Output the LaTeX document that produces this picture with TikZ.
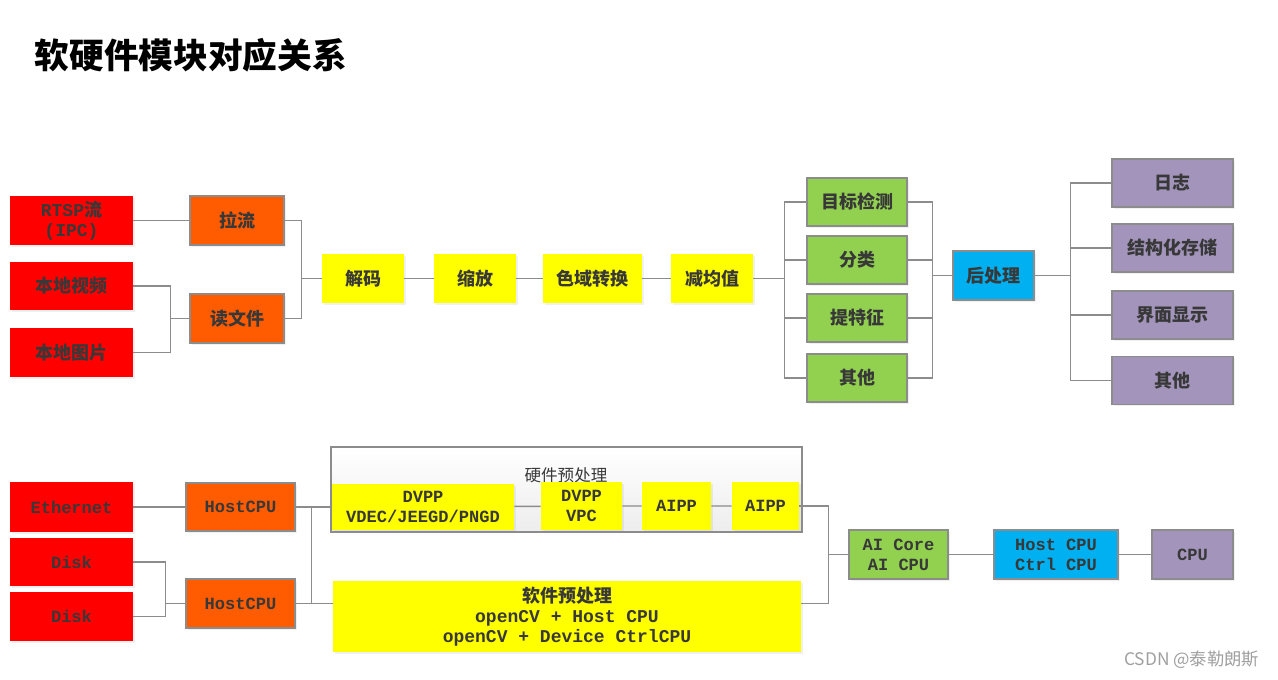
\documentclass[tikz,border=0pt]{standalone}
\usepackage{fontspec}
\setmainfont{Noto Sans CJK SC}
\newfontfamily\mono{Liberation Mono}
\usepackage{tikz}
\usetikzlibrary{positioning, shadows}
\usepackage{xcolor}
\definecolor{boxred}{HTML}{FF0000}
\definecolor{boxorange}{HTML}{FF5B00}
\definecolor{boxyellow}{HTML}{FFFF00}
\definecolor{boxgreen}{HTML}{92D050}
\definecolor{boxblue}{HTML}{00B0F0}
\definecolor{boxpurple}{HTML}{A294BA}
\definecolor{linegray}{HTML}{8C8C8C}
\definecolor{textgray}{HTML}{383838}

\tikzset{
  boxsize/.style 2 args={minimum width=#1*0.75pt, minimum height=#2*0.75pt},
  box/.style={rectangle, inner sep=0pt, align=center, text=textgray,
    font=\fontsize{13.5}{15}\selectfont\bfseries,
    drop shadow={opacity=0.12, shadow xshift=1.2pt, shadow yshift=-1.2pt}},
  monotext/.style={font=\mono\fontsize{12.8}{15}\selectfont\bfseries},
  redbox/.style={box, fill=boxred},
  orangebox/.style={box, fill=boxorange, draw=linegray, line width=0.8pt},
  yellowbox/.style={box, fill=boxyellow},
  greenbox/.style={box, fill=boxgreen, draw=linegray, line width=0.8pt},
  bluebox/.style={box, fill=boxblue, draw=linegray, line width=0.8pt},
  purplebox/.style={box, fill=boxpurple, draw=linegray, line width=0.8pt},
  conn/.style={draw=linegray, line width=1.1pt},
}

\begin{document}
\begin{tikzpicture}[x=0.75pt, y=-0.75pt]
  \useasboundingbox (0,0) rectangle (1278,679);
  % Titel
  \node[anchor=west, font=\fontsize{26}{30}\selectfont\bfseries] (title) at (30,55) {软硬件模块对应关系};

  % Quellen oben
  \node[redbox, boxsize={123}{49}] (rtsp) at (71.5,220.5) {{\mono RTSP}流\\{\mono (IPC)}};
  \node[redbox, boxsize={123}{48}] (video) at (71.5,286) {本地视频};
  \node[redbox, boxsize={123}{49}] (image) at (71.5,352.5) {本地图片};
  \node[orangebox, boxsize={94}{49}] (pull) at (237,220.5) {拉流};
  \node[orangebox, boxsize={94}{49}] (read) at (237,318.5) {读文件};

  % Vorverarbeitung
  \node[yellowbox, boxsize={82}{49}] (decode) at (363,278.5) {解码};
  \node[yellowbox, boxsize={82}{49}] (resize) at (475,278.5) {缩放};
  \node[yellowbox, boxsize={99}{49}] (csc) at (592.5,278.5) {色域转换};
  \node[yellowbox, boxsize={82}{49}] (mean) at (712,278.5) {减均值};

  % Inferenz
  \foreach \n/\t/\y in {det/目标检测/202, cls/分类/260, feat/提特征/318, othera/其他/378}{
    \node[greenbox, boxsize={100}{48}] (\n) at (857,\y) {\t};
  }
  \node[bluebox, boxsize={81}{49}] (post) at (993.5,275.5) {后处理};

  % Nachverarbeitung
  \foreach \n/\t/\y in {log/日志/183, store/结构化存储/248, gui/界面显示/315, otherb/其他/380.5}{
    \node[purplebox, boxsize={121}{48}] (\n) at (1172.5,\y) {\t};
  }

  % Verbindungen oben
  \draw[conn] (rtsp.east) -- (pull.west);
  \draw[conn] (video.east) -- ++(37,0) |- (read.west);
  \draw[conn] (image.east) -- ++(37,0) |- (read.west);
  \draw[conn] (pull.east) -- ++(17,0) |- (decode.west);
  \draw[conn] (read.east) -- ++(17,0) |- (decode.west);
  \draw[conn] (decode) -- (resize) -- (csc) -- (mean);
  \foreach \n in {det, cls, feat, othera}{
    \draw[conn] (mean.east) -- ++(31,0) |- (\n.west);
    \draw[conn] (\n.east) -- ++(25,0) |- (post.west);
  }
  \foreach \n in {log, store, gui, otherb}{
    \draw[conn] (post.east) -- ++(36,0) |- (\n.west);
  }

  % Hardware unten
  \node[redbox, monotext, boxsize={123}{50}] (eth) at (71.5,507) {Ethernet};
  \node[redbox, monotext, boxsize={123}{48}] (diska) at (71.5,562) {Disk};
  \node[redbox, monotext, boxsize={123}{49}] (diskb) at (71.5,616.5) {Disk};
  \node[orangebox, monotext, boxsize={109}{48}] (hosta) at (240.5,507) {HostCPU};
  \node[orangebox, monotext, boxsize={109}{49}] (hostb) at (240.5,603.5) {HostCPU};

  % Gruppe Hardware-Vorverarbeitung
  \node[draw=linegray, line width=0.9pt, top color=white, bottom color=gray!14,
    boxsize={471}{85}] (hw) at (566.5,489.5) {};
  \node[text=textgray, font=\fontsize{12.4}{14}\selectfont] (hwtitle) at (566,475) {硬件预处理};
  \node[yellowbox, monotext, boxsize={182}{46}] (vdec) at (423,507) {DVPP\\VDEC/JEEGD/PNGD};
  \node[yellowbox, monotext, boxsize={81}{48}] (vpc) at (581.5,506) {DVPP\\VPC};
  \node[yellowbox, monotext, boxsize={69}{48}] (aippa) at (676.5,506) {AIPP};
  \node[yellowbox, monotext, boxsize={67}{48}] (aippb) at (765.5,506) {AIPP};
  \node[yellowbox, boxsize={468}{71}] (sw) at (567,616.5)
    {软件预处理\\{\mono openCV + Host CPU}\\{\mono openCV + Device CtrlCPU}};

  \node[greenbox, monotext, boxsize={99}{49}] (aicore) at (898.5,554.5) {AI Core\\AI CPU};
  \node[bluebox, monotext, boxsize={124}{49}] (ctrl) at (1056,554.5) {Host CPU\\Ctrl CPU};
  \node[purplebox, monotext, boxsize={81}{49}] (cpu) at (1192.5,554.5) {CPU};

  % Verbindungen unten
  \draw[conn] (eth.east) -- (hosta.west);
  \draw[conn] (diska.east) -- ++(32,0) |- (hostb.west);
  \draw[conn] (diskb.east) -- ++(32,0) |- (hostb.west);
  \draw[conn] (hosta.east) -- (vdec.west);
  \draw[conn] (hosta.east) -- ++(16,0) |- (hostb.east);
  \draw[conn] (hostb.east) -- (hostb.east -| sw.west);
  \draw[conn] (vdec) -- (vpc) -- (aippa) -- (aippb);
  \draw[conn] (aippb.east) -- ++(29,0) |- (aicore.west);
  \draw[conn] (sw.east |- hostb.east) -- ++(27,0) |- (aicore.west);
  \draw[conn] (aicore) -- (ctrl) -- (cpu);

  % Wasserzeichen
  \node[anchor=east, text=gray!75, font=\fontsize{13}{15}\selectfont] (mark) at (1264,660) {CSDN @泰勒朗斯};
\end{tikzpicture}
\end{document}
